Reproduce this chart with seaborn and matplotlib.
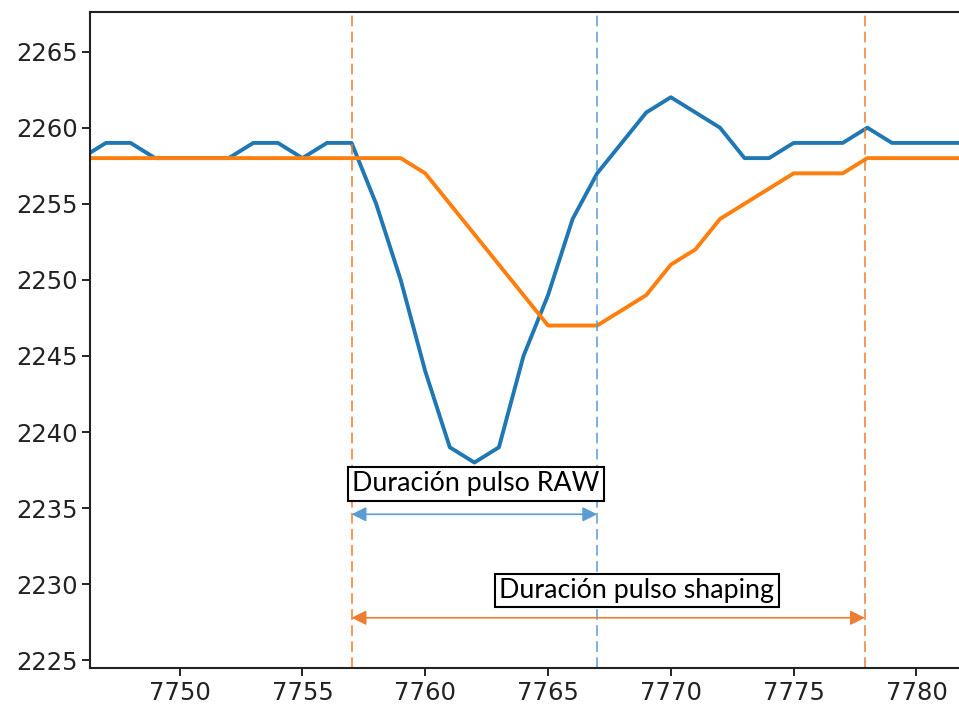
import numpy as np
import pandas as pd
import seaborn as sns
import matplotlib.pyplot as plt

# sample index and the two signals (raw and shaped)
muestras = list(range(7746, 7783))
raw = [2258, 2259, 2259, 2258, 2258, 2258, 2258, 2259, 2259, 2258,
       2259, 2259, 2255, 2250, 2244, 2239, 2238, 2239, 2245, 2249,
       2254, 2257, 2259, 2261, 2262, 2261, 2260, 2258, 2258, 2259,
       2259, 2259, 2260, 2259, 2259, 2259, 2259]
shaping = [2258, 2258, 2258, 2258, 2258, 2258, 2258, 2258, 2258, 2258,
           2258, 2258, 2258, 2258, 2257, 2255, 2253, 2251, 2249, 2247,
           2247, 2247, 2248, 2249, 2251, 2252, 2254, 2255, 2256, 2257,
           2257, 2257, 2258, 2258, 2258, 2258, 2258]

# pulse limits
inicio = 7757
fin_raw = 7767
fin_shaping = 7777.9

df = pd.DataFrame({"x": muestras, "raw": raw, "shaping": shaping})

sns.set_style("ticks")
plt.rcParams["font.family"] = ["DejaVu Sans"]

fig = plt.figure(figsize=(9.59, 7.09), dpi=100)
ax = fig.add_axes([90 / 959, 41 / 709, 880 / 959, 656 / 709])

sns.lineplot(data=df, x="x", y="raw", color="#1f77b4", lw=2.8, ax=ax)
sns.lineplot(data=df, x="x", y="shaping", color="#ff7f0e", lw=2.8, ax=ax)

ax.set_xlim(7746.35, 7746.35 + 880 / 24.56)
ax.set_ylim(2224.5, 2267.6)
ax.set_xticks([7750, 7755, 7760, 7765, 7770, 7775, 7780])
ax.set_yticks([2225, 2230, 2235, 2240, 2245, 2250, 2255, 2260, 2265])
ax.set_xlabel("")
ax.set_ylabel("")
ax.tick_params(labelsize=17.5, length=6, width=1.4, colors="#222222", pad=3)
for s in ax.spines.values():
    s.set_linewidth(1.5)
    s.set_color("#222222")

ax.axvline(inicio, color="#ED7D31", lw=1.1, ls=(0, (7, 3.5)))
ax.axvline(fin_raw, color="#5B9BD5", lw=1.1, ls=(0, (7, 3.5)))
ax.axvline(fin_shaping, color="#ED7D31", lw=1.1, ls=(0, (7, 3.5)))

ax.annotate("", xy=(fin_raw, 2234.6), xytext=(inicio, 2234.6),
            arrowprops=dict(arrowstyle="<|-|>", color="#5B9BD5", lw=1.2,
                            mutation_scale=22, shrinkA=0, shrinkB=0))
ax.annotate("", xy=(fin_shaping, 2227.8), xytext=(inicio, 2227.8),
            arrowprops=dict(arrowstyle="<|-|>", color="#ED7D31", lw=1.2,
                            mutation_scale=22, shrinkA=0, shrinkB=0))

caja = dict(boxstyle="square,pad=0.16", fc="white", ec="black", lw=1.5)
ax.text(7762.07, 2236.6, "Duración pulso RAW", family="Lato", fontsize=19.3,
        color="black", ha="center", va="center", bbox=caja)
ax.text(7768.62, 2229.6, "Duración pulso shaping", family="Lato", fontsize=19.3,
        color="black", ha="center", va="center", bbox=caja)

fig.savefig("out.png", dpi=100)
